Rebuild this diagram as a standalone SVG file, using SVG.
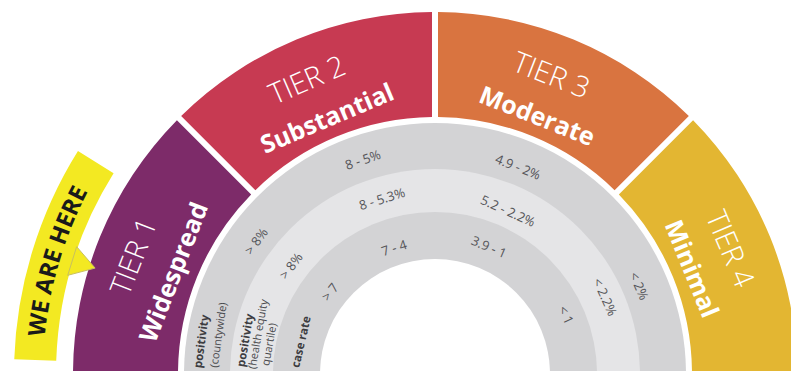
<svg xmlns="http://www.w3.org/2000/svg" width="791" height="371" viewBox="0 0 791 371">
<style>
.tier{font-family:"Open Sans","Liberation Sans",sans-serif;fill:#ffffff;text-anchor:middle}
.num{font-family:"Open Sans","Liberation Sans",sans-serif;fill:#555559;font-size:13px;text-anchor:middle}
.lab{font-family:"Open Sans","Liberation Sans",sans-serif;fill:#3c3c40;font-size:11.5px;font-weight:700}
.sub{font-family:"Open Sans","Liberation Sans",sans-serif;fill:#4a4a4e;font-size:11px}
.t1{font-size:29px;font-weight:300}
.t2{font-size:25px;font-weight:700}
</style>
<defs>
<path id="bannerPath" d="M 43.24 360.32 A 392 392 0 0 1 99.64 170.93" fill="none"/>
</defs>
<rect width="791" height="371" fill="#ffffff"/>
<g id="rings">
<circle cx="435" cy="374" r="251" fill="#d3d3d5"/>
<circle cx="435" cy="374" r="205" fill="#e5e5e7"/>
<circle cx="435" cy="374" r="162" fill="#d3d3d5"/>
<circle cx="435" cy="374" r="115" fill="#ffffff"/>
</g>
<g id="tier1">
<path d="M 176.91 120.16 A 362 362 0 0 0 73 374 L 178 374 A 257 257 0 0 1 251.16 194.41 Z" fill="#7d2b69"/>
<text class="tier t1" transform="translate(142.92 260.12) rotate(-68.7)">TIER 1</text>
<text class="tier t2" transform="translate(181.77 275.27) rotate(-68.7)">Widespread</text>
</g>
<g id="tier2">
<path d="M 181.16 115.91 A 362 362 0 0 1 432 12.01 L 432 117.02 A 257 257 0 0 0 255.41 190.16 Z" fill="#c73a52"/>
<text class="tier t1" transform="translate(311.15 89.16) rotate(-23.5)">TIER 2</text>
<text class="tier t2" transform="translate(330.4 126.38) rotate(-22.9)">Substantial</text>
</g>
<g id="tier3">
<path d="M 438 12.01 A 362 362 0 0 1 688.84 115.91 L 614.59 190.16 A 257 257 0 0 0 438 117.02 Z" fill="#d97440"/>
<text class="tier t1" transform="translate(547.83 84.62) rotate(21.3)">TIER 3</text>
<text class="tier t2" transform="translate(533.95 124.07) rotate(21.6)">Moderate</text>
</g>
<g id="tier4">
<path d="M 693.09 120.16 A 362 362 0 0 1 797 374 L 692 374 A 257 257 0 0 0 618.84 194.41 Z" fill="#e3b632"/>
<text class="tier t1" transform="translate(720.91 252.64) rotate(67)">TIER 4</text>
<text class="tier t2" transform="translate(683.7 272) rotate(67.7)">Minimal</text>
</g>
<g id="banner">
<path d="M 77.97 150.9 A 421 421 0 0 0 14.26 359.31 L 56.23 360.77 A 379 379 0 0 1 113.59 173.16 Z" fill="#f3e922"/>
<polygon points="76.65,246.68 67.73,275.32 95.1,268.1" fill="#f3e922" stroke="#c8c060" stroke-width="1"/>
<text font-family="Open Sans, Liberation Sans, sans-serif" font-size="23.5" font-weight="700" fill="#1a1a1a" text-anchor="middle"><textPath href="#bannerPath" startOffset="50%">WE ARE HERE</textPath></text>
</g>
<g id="row-labels">
<text class="lab" transform="translate(201.4 368.4) rotate(-82)">positivity</text>
<text class="sub" transform="translate(217.6 367.9) rotate(-82)">(countywide)</text>
<text class="lab" transform="translate(244.4 367.4) rotate(-80)">positivity</text>
<text class="sub" transform="translate(255.6 369.5) rotate(-80)">(health equity</text>
<text class="sub" transform="translate(269.1 366.2) rotate(-80)">quartile)</text>
<text class="lab" transform="translate(299.1 368.2) rotate(-77)">case rate</text>
</g>
<g id="values">
<text class="num" transform="translate(259.99 244.02) rotate(-53.4)">&gt; 8%</text>
<text class="num" transform="translate(364.38 164.16) rotate(-18.6)">8 - 5%</text>
<text class="num" transform="translate(516.28 171.29) rotate(21.85)">4.9 - 2%</text>
<text class="num" transform="translate(634.8 287.82) rotate(66.67)">&lt; 2%</text>
<text class="num" transform="translate(294.68 268.76) rotate(-53.13)">&gt; 8%</text>
<text class="num" transform="translate(383.32 203.35) rotate(-16.85)">8 - 5.3%</text>
<text class="num" transform="translate(506.1 215.19) rotate(24.12)">5.2 - 2.2%</text>
<text class="num" transform="translate(600.78 298.9) rotate(65.63)">&lt; 2.2%</text>
<text class="num" transform="translate(333.66 294.83) rotate(-52)">&gt; 7</text>
<text class="num" transform="translate(395.48 252.36) rotate(-18)">7 - 4</text>
<text class="num" transform="translate(487.12 251.21) rotate(23)">3.9 - 1</text>
<text class="num" transform="translate(561.83 316.87) rotate(65.75)">&lt; 1</text>
</g>
</svg>
